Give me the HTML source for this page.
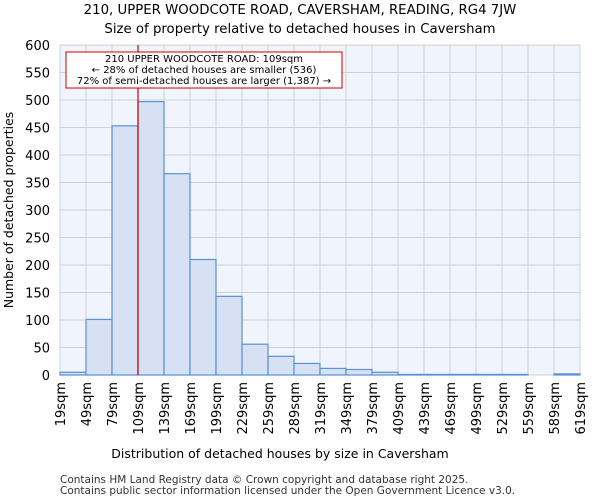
<!DOCTYPE html>
<html><head><meta charset="utf-8"><style>
body{margin:0;background:#fff;font-family:"DejaVu Sans","Liberation Sans",sans-serif;}
</style></head><body>
<svg id="chart" width="600" height="500" xmlns="http://www.w3.org/2000/svg" font-family="DejaVu Sans, Liberation Sans, sans-serif">
<text x="300" y="14" text-anchor="middle" font-size="13.3">210, UPPER WOODCOTE ROAD, CAVERSHAM, READING, RG4 7JW</text>
<text x="300" y="33" text-anchor="middle" font-size="13.3">Size of property relative to detached houses in Caversham</text>
<rect x="60" y="45" width="520" height="330" fill="#f0f4fc"/>
<g id="grid"></g><g id="bars"></g><g id="axes"></g>
<line x1="138" y1="45" x2="138" y2="375" stroke="#cc0000" stroke-width="1.2"/>
<rect x="66" y="52" width="276" height="36" fill="#fff" stroke="#cc0000"/>
<text font-size="10" text-anchor="middle"><tspan x="204" y="62">210 UPPER WOODCOTE ROAD: 109sqm</tspan><tspan x="204" y="73">← 28% of detached houses are smaller (536)</tspan><tspan x="204" y="84">72% of semi-detached houses are larger (1,387) →</tspan></text>
<text x="280" y="458" text-anchor="middle" font-size="12.5">Distribution of detached houses by size in Caversham</text>
<text transform="translate(13,210) rotate(-90)" text-anchor="middle" font-size="12.5">Number of detached properties</text>
<text x="60" y="483" font-size="10.5" fill="#333">Contains HM Land Registry data © Crown copyright and database right 2025.</text>
<text x="60" y="494" font-size="10.5" fill="#333">Contains public sector information licensed under the Open Government Licence v3.0.</text>
</svg>
<script>
const binEdges=[19,49,79,109,139,169,199,229,259,289,319,349,379,409,439,469,499,529,559,589,619];
const counts=[5,101,453,497,366,210,143,56,34,21,12,10,5,1,1,1,1,1,0,2];
const yTicks=[0,50,100,150,200,250,300,350,400,450,500,550,600];
const NS="http://www.w3.org/2000/svg";
const x=v=>60+(v-19)/600*520;
const y=v=>375-v/600*330;
function mk(t,a,p){const e=document.createElementNS(NS,t);for(const k in a)e.setAttribute(k,a[k]);p.appendChild(e);return e;}
const grid=document.getElementById('grid'),bars=document.getElementById('bars'),axes=document.getElementById('axes');
yTicks.forEach(v=>{
  const l=mk('line',{x1:60,x2:580,y1:y(v),y2:y(v),stroke:'#d0d0d0'},grid);
  
  
  const t=mk('text',{x:50,y:y(v)+5,'text-anchor':'end','font-size':13},axes);
  t.textContent=v;
  
  
});
binEdges.forEach(v=>{
  const l=mk('line',{x1:x(v),x2:x(v),y1:45,y2:375,stroke:'#d0d0d0'},grid);
  
  
  const t=mk('text',{transform:`translate(${x(v)+5},382) rotate(-90)`,'text-anchor':'end','font-size':13},axes);
  t.textContent=v+'sqm';
  
  
});
counts.forEach((c,i)=>{
  if(c<=0)return;
  const r=mk('rect',{x:x(binEdges[i]),y:y(c),width:x(binEdges[i+1])-x(binEdges[i]),height:375-y(c),fill:'#d6e2f4',stroke:'#5b8fd6','stroke-width':1.2},bars);
  
  
});
</script>
</body></html>
